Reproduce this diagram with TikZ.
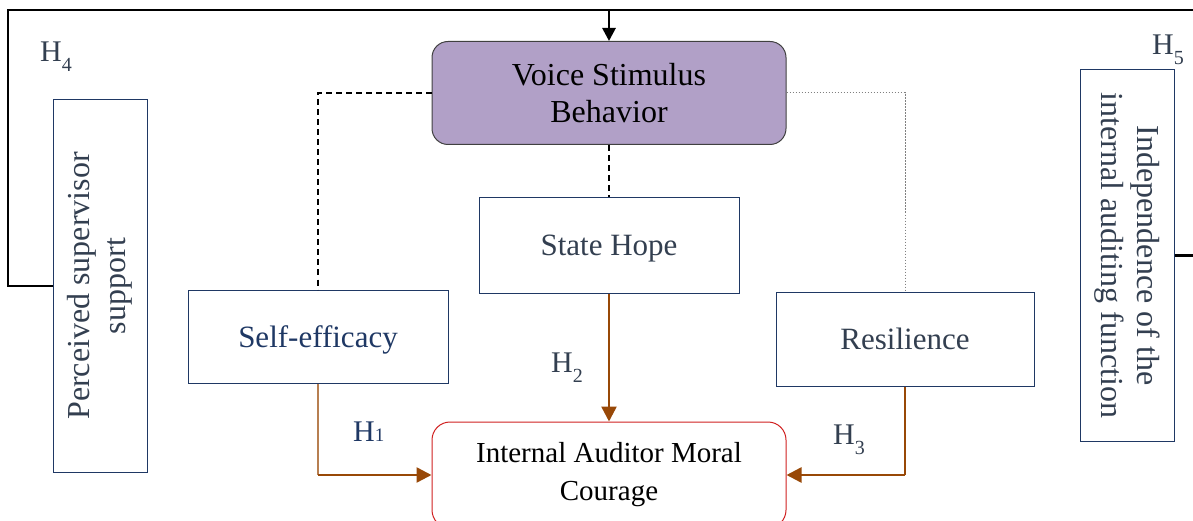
\documentclass[tikz,border=0pt]{standalone}
\usepackage{fontspec}
\setmainfont{Liberation Serif}
\usetikzlibrary{arrows.meta,calc}
\definecolor{navy}{HTML}{1F3864}
\definecolor{slate}{HTML}{333F50}
\definecolor{brn}{HTML}{984807}
\definecolor{purp}{HTML}{B1A0C7}
\definecolor{redb}{HTML}{D02020}
\newcommand\Hlab[1]{H\raisebox{-10pt}{\fontsize{20}{20}\selectfont #1}}
\begin{document}
\begin{tikzpicture}[x=1pt,y=-1pt,
  txt/.style={font=\fontsize{31}{37}\selectfont, align=center},
  box/.style={draw=navy, line width=1pt, rectangle, inner sep=0pt, txt},
  blk/.style={draw=black, line width=2.7pt},
  dsh/.style={draw=black, line width=1.5pt, dash pattern=on 6pt off 4pt},
  dot/.style={draw=gray, line width=1pt, dash pattern=on 1.5pt off 1.5pt},
  brthick/.style={draw=brn, line width=2.5pt, -{Triangle[width=15pt,length=15pt]}},
  brthin/.style={draw=brn, line width=1.2pt},
  hl/.style={text=slate, font=\fontsize{30}{30}\selectfont, inner sep=0pt, anchor=base west}]
\useasboundingbox (0,0) rectangle (1193,521);
\clip (0,0) rectangle (1193,521);
% boxes
\node[draw=black!75, line width=1pt, fill=purp, rounded corners=16pt, minimum width=354pt, minimum height=103pt, inner sep=0pt, txt, font=\fontsize{32}{37}\selectfont] (voice) at (609,93) {Voice Stimulus\\Behavior};
\node[box, text=slate, text depth=0pt, minimum width=260pt, minimum height=95pt] (hope) at (609,245.5) {State Hope};
\node[box, text=navy, text depth=0pt, minimum width=260pt, minimum height=93pt] (self) at (318,336.5) {Self-efficacy};
\node[box, text=slate, minimum width=258pt, minimum height=94pt] (res) at (905,339) {Resilience};
\node[draw=redb, line width=1pt, rounded corners=18pt, minimum width=354pt, minimum height=106pt, inner sep=0pt, txt, font=\fontsize{29}{38}\selectfont, text=black] (moral) at (609,475) {Internal Auditor Moral\\Courage};
\node[box, minimum width=94pt, minimum height=372pt] (perc) at (100,286) {};
\node[txt, text=slate, rotate=90, font=\fontsize{32}{36}\selectfont] (perct) at (perc.center) {Perceived supervisor\\support};
\node[box, minimum width=94pt, minimum height=371pt] (indep) at (1127,255.5) {};
\node[txt, text=slate, rotate=-90, font=\fontsize{32}{36}\selectfont] (indept) at (indep.center) {Independence of the\\internal auditing function};
% black feedback lines
\coordinate (tl) at (8,10);
\coordinate (tr) at (1205,10);
\coordinate (top) at (609,10);
\draw[blk] (perc.west) -| (tl) -- (tr) |- (indep.east);
\draw[blk, -{Triangle[width=13pt,length=13pt]}] (top) -- (voice.north);
% dashed / dotted
\draw[dsh] (voice.west) -| (self.north);
\draw[dsh] (voice.south) -- (hope.north);
\draw[dot] (voice.east) -| (res.north);
% brown arrows
\draw[brthick] (hope.south) -- (moral.north);
\draw[brthin, draw=brn!70] (self.south) -- (self.south |- moral.west) coordinate (c1);
\draw[brthick] (c1) -- (moral.west);
\draw[brthin] (res.south) -- (res.south |- moral.west) coordinate (c3);
\draw[brthick] (c3) -- (moral.east);
% labels
\node[hl] (h4) at (40,62) {\Hlab{4}};
\node[hl] (h5) at (1152,55) {\Hlab{5}};
\node[hl] (h2) at (551,372) {\Hlab{2}};
\node[hl] (h3) at (833,444) {\Hlab{3}};
\node[hl, text=navy] (h1) at (353,441) {H\fontsize{19}{19}\selectfont 1};
\end{tikzpicture}
\end{document}
